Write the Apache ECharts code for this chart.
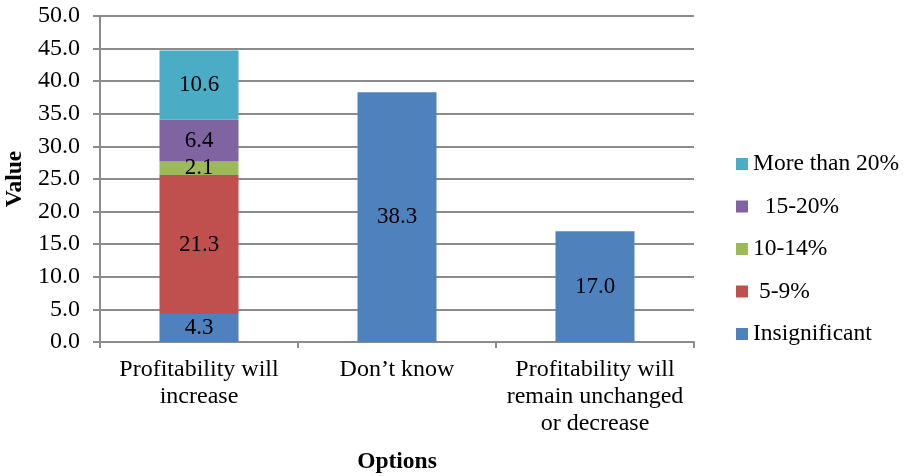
<!DOCTYPE html>
<html>
<head>
<meta charset="utf-8">
<script src="https://cdn.jsdelivr.net/npm/echarts@6/dist/echarts.min.js"></script>
<style>
  html, body { margin: 0; padding: 0; background: #ffffff; }
  #chart { width: 907px; height: 476px; }
</style>
</head>
<body>
<div id="chart"></div>
<script>
// Survey answers on the outlook for profitability
const categories = ['Profitability will\nincrease', 'Don\u2019t know', 'Profitability will\nremain unchanged\nor decrease'];

// Stacked segments, bottom to top
const insignificant = [4.3, 38.3, 17.0];
const pct5to9 = [21.3, null, null];
const pct10to14 = [2.1, null, null];
const pct15to20 = [6.4, null, null];
const moreThan20 = [10.6, null, null];

const seriesNames = ['Insignificant', ' 5-9%', '10-14%', '  15-20%', 'More than 20%'];
const seriesValues = [insignificant, pct5to9, pct10to14, pct15to20, moreThan20];
const seriesColors = ['#4F81BD', '#C0504D', '#9BBB59', '#8064A2', '#4BACC6'];

const yTicks = { min: 0, max: 50, interval: 5 };

const FONT = '"Liberation Serif", "Times New Roman", serif';
const GRID_GRAY = '#8c8c8c';

const chart = echarts.init(document.getElementById('chart'), null, { renderer: 'canvas' });

const series = seriesNames.map((name, i) => ({
  name: name,
  type: 'bar',
  stack: 'total',
  barWidth: 79,
  data: seriesValues[i],
  itemStyle: { color: seriesColors[i] },
  label: {
    show: true,
    position: 'inside',
    color: '#000000',
    fontFamily: FONT,
    fontSize: 23,
    formatter: p => (p.value == null ? '' : Number(p.value).toFixed(1))
  }
}));

chart.setOption({
  animation: false,
  backgroundColor: '#ffffff',
  textStyle: { fontFamily: FONT },
  grid: { left: 100, right: 213, top: 16, bottom: 134, containLabel: false, outerBoundsMode: 'none' },
  legend: {
    orient: 'vertical',
    left: 736,
    top: 152,
    padding: 0,
    data: seriesNames.slice().reverse(),
    icon: 'rect',
    itemWidth: 12,
    itemHeight: 12,
    itemGap: 18.5,
    textStyle: { fontFamily: FONT, fontSize: 23.5, color: '#000000', lineHeight: 23.5 }
  },
  xAxis: {
    type: 'category',
    data: categories,
    name: 'Options',
    nameLocation: 'middle',
    nameGap: 108,
    nameTextStyle: { fontFamily: FONT, fontSize: 23.5, fontWeight: 'bold', color: '#000000' },
    axisLine: { show: true, lineStyle: { color: GRID_GRAY, width: 2 } },
    axisTick: { show: true, length: 6, lineStyle: { color: GRID_GRAY, width: 2 } },
    axisLabel: {
      fontFamily: FONT, fontSize: 24, color: '#000000', lineHeight: 27,
      margin: 14, interval: 0, verticalAlign: 'top'
    },
    splitLine: { show: false }
  },
  yAxis: {
    type: 'value',
    min: yTicks.min,
    max: yTicks.max,
    interval: yTicks.interval,
    name: 'Value',
    nameLocation: 'middle',
    nameGap: 72,
    nameRotate: 90,
    nameTextStyle: { fontFamily: FONT, fontSize: 23.5, fontWeight: 'bold', color: '#000000' },
    axisLine: { show: true, lineStyle: { color: GRID_GRAY, width: 2 } },
    axisTick: { show: true, length: 7, lineStyle: { color: GRID_GRAY, width: 2 } },
    axisLabel: {
      fontFamily: FONT, fontSize: 24, color: '#000000', margin: 20,
      formatter: v => v.toFixed(1)
    },
    splitLine: { show: true, lineStyle: { color: GRID_GRAY, width: 2 } }
  },
  series: series
});
</script>
</body>
</html>
